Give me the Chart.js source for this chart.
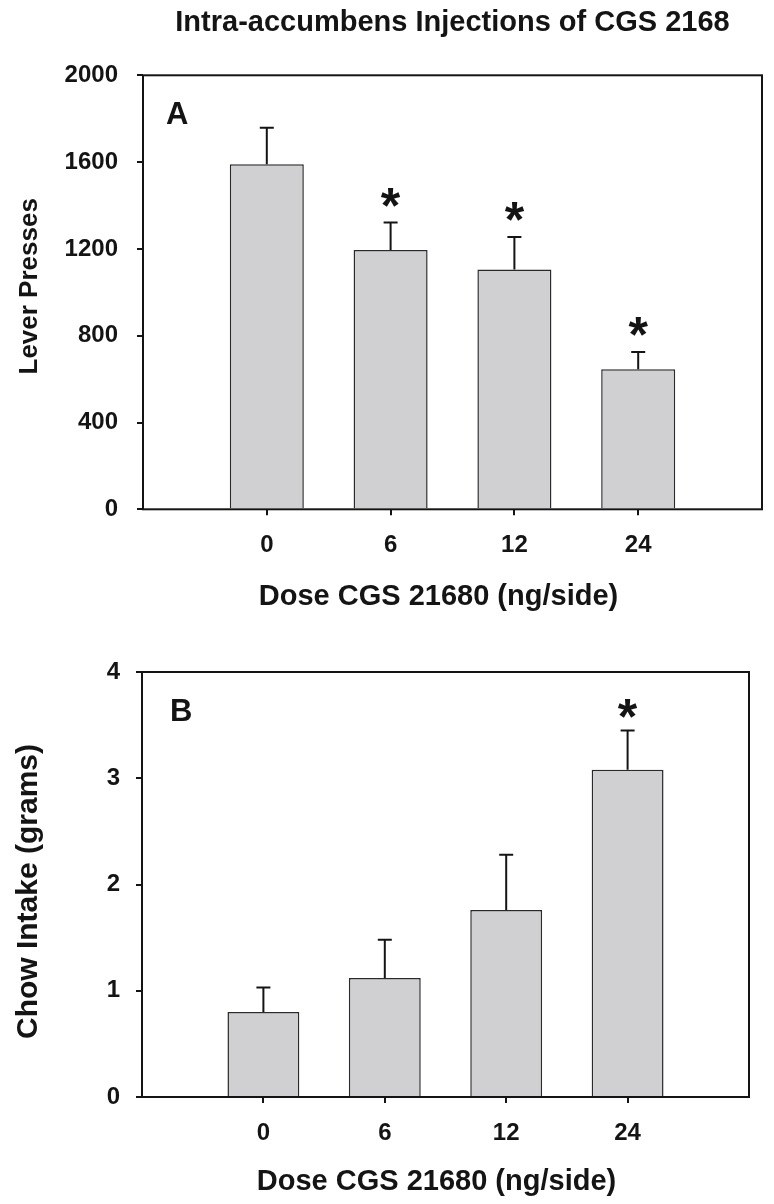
<!DOCTYPE html>
<html>
<head>
<meta charset="utf-8">
<script src="https://cdn.jsdelivr.net/npm/chart.js@4.4.1/dist/chart.umd.min.js"></script>
<style>
html,body{margin:0;padding:0;background:#fff;}
#wrap{position:relative;width:774px;height:1204px;overflow:hidden;}
#boxA{position:absolute;left:0;top:0;width:774px;height:620px;}
#boxB{position:absolute;left:0;top:620px;width:774px;height:584px;}
</style>
</head>
<body>
<div id="wrap">
  <div id="boxA"><canvas id="cA"></canvas></div>
  <div id="boxB"><canvas id="cB"></canvas></div>
</div>
<script>
// ---- data ----
const doses = ['0', '6', '12', '24'];
const leverPresses = [1590, 1195, 1105, 645];
const leverPressesSEM = [168, 127, 150, 80];
const leverSig = [false, true, true, true];
const leverTicks = [0, 400, 800, 1200, 1600, 2000];

const chowIntake = [0.80, 1.12, 1.76, 3.08];
const chowIntakeSEM = [0.23, 0.36, 0.52, 0.37];
const chowSig = [false, false, false, true];
const chowTicks = [0, 1, 2, 3, 4];

const mainTitle = 'Intra-accumbens Injections of CGS 2168';
const xTitle = 'Dose CGS 21680 (ng/side)';

// ---- styling ----
const FONT = "'Liberation Sans', Arial, Helvetica, sans-serif";
const INK = '#141414';
Chart.defaults.font.family = FONT;
Chart.defaults.color = INK;

const extras = {
  id: 'extras',
  afterDatasetsDraw(chart, args, o) {
    const ctx = chart.ctx;
    const meta = chart.getDatasetMeta(0);
    const ys = chart.scales.y;
    const ca = chart.chartArea;
    ctx.save();
    ctx.strokeStyle = INK;
    ctx.lineWidth = 2;
    ctx.lineCap = 'butt';
    meta.data.forEach((bar, i) => {
      const top = ys.getPixelForValue(o.means[i] + o.sem[i]);
      ctx.beginPath();
      ctx.moveTo(bar.x, bar.y);
      ctx.lineTo(bar.x, top);
      ctx.moveTo(bar.x - o.cap / 2, top);
      ctx.lineTo(bar.x + o.cap / 2, top);
      ctx.stroke();
      if (o.sig[i]) {
        ctx.font = 'bold ' + o.starSize + 'px ' + FONT;
        ctx.fillStyle = INK;
        ctx.textAlign = 'center';
        ctx.textBaseline = 'alphabetic';
        const m = ctx.measureText('*');
        const asc = m.actualBoundingBoxAscent, desc = m.actualBoundingBoxDescent;
        const cy = top - o.starGap;
        ctx.fillText('*', bar.x, cy + (asc - desc) / 2);
      }
    });
    // frame
    ctx.lineWidth = 2;
    ctx.strokeRect(ca.left, ca.top, ca.right - ca.left, ca.bottom - ca.top);
    // panel letter
    ctx.font = 'bold ' + o.letterSize + 'px ' + FONT;
    ctx.fillStyle = INK;
    ctx.textAlign = 'left';
    ctx.textBaseline = 'alphabetic';
    ctx.fillText(o.letter, ca.left + o.letterDx, ca.top + o.letterDy);
    // axis titles
    ctx.textAlign = 'center';
    ctx.textBaseline = 'middle';
    ctx.font = 'bold ' + o.xTitleSize + 'px ' + FONT;
    ctx.fillText(o.xTitle, (ca.left + ca.right) / 2 + o.xTitleDx, ca.bottom + o.xTitleDy);
    ctx.font = 'bold ' + o.yTitleSize + 'px ' + FONT;
    ctx.translate(o.yTitleX, (ca.top + ca.bottom) / 2 + o.yTitleDy);
    ctx.rotate(-Math.PI / 2);
    ctx.fillText(o.yTitle, 0, 0);
    ctx.restore();
  }
};

function makeChart(id, cfg) {
  return new Chart(document.getElementById(id), {
    type: 'bar',
    data: {
      datasets: [{
        data: doses.map((d, i) => ({ x: i, y: cfg.means[i] })),
        backgroundColor: '#d0d0d3',
        borderColor: '#2a2a2a',
        borderWidth: 1.5,
        categoryPercentage: 1,
        barPercentage: cfg.barPct
      }]
    },
    options: {
      responsive: true,
      maintainAspectRatio: false,
      animation: false,
      devicePixelRatio: 1,
      layout: { padding: cfg.padding },
      plugins: {
        legend: { display: false },
        tooltip: { enabled: false },
        title: cfg.title,
        extras: {
          means: cfg.means, sem: cfg.sem, sig: cfg.sig, cap: 14,
          starSize: 50, starGap: cfg.starGap,
          letter: cfg.letter, letterSize: 31, letterDx: cfg.letterDx, letterDy: 48.5,
          xTitle: xTitle, xTitleSize: 29, xTitleDx: cfg.xTitleDx, xTitleDy: cfg.xTitleDy,
          yTitle: cfg.yTitle, yTitleSize: cfg.yTitleSize, yTitleX: cfg.yTitleX, yTitleDy: cfg.yTitleDy
        }
      },
      scales: {
        x: {
          type: 'linear',
          min: -1, max: 4,
          offset: false,
          afterBuildTicks: s => { s.ticks = doses.map((d, i) => ({ value: i })); },
          afterFit: s => { s.height = cfg.xHeight; },
          grid: { offset: false, drawOnChartArea: false, drawTicks: true, tickLength: 6, color: INK, lineWidth: 2 },
          border: { display: false },
          ticks: {
            padding: 16, autoSkip: false, maxRotation: 0, color: INK,
            font: { size: 24, weight: 'bold' },
            callback: v => doses[v]
          },
          title: { display: false }
        },
        y: {
          min: cfg.ticks[0], max: cfg.ticks[cfg.ticks.length - 1],
          afterBuildTicks: s => { s.ticks = cfg.ticks.map(v => ({ value: v })); },
          afterFit: s => { s.width = cfg.yWidth; },
          grid: { drawOnChartArea: false, drawTicks: true, tickLength: 6, color: INK, lineWidth: 2 },
          border: { display: false },
          ticks: {
            padding: cfg.yTickPad, color: INK, font: { size: 24, weight: 'bold' },
            callback: v => String(v)
          },
          title: { display: false }
        }
      }
    },
    plugins: [extras]
  });
}

makeChart('cA', {
  means: leverPresses, sem: leverPressesSEM, sig: leverSig, ticks: leverTicks,
  yTitle: 'Lever Presses', yTitleSize: 26, yTitleX: 30, yTitleDy: -6,
  letter: 'A', letterDx: 23, starGap: 25,
  xTitleDx: -14, xTitleDy: 88,
  barPct: 0.598, xHeight: 110.7, yWidth: 143, yTickPad: 19,
  padding: { left: 0, right: 12, top: 0, bottom: 0 },
  title: {
    display: true, text: mainTitle, fullSize: false, color: INK,
    font: { size: 29, weight: 'bold' },
    padding: { top: 6, bottom: 34.5 }
  }
});

makeChart('cB', {
  means: chowIntake, sem: chowIntakeSEM, sig: chowSig, ticks: chowTicks,
  yTitle: 'Chow Intake (grams)', yTitleSize: 30, yTitleX: 28.5, yTitleDy: 7,
  letter: 'B', letterDx: 28, starGap: 22,
  xTitleDx: -9, xTitleDy: 85,
  barPct: 0.592, xHeight: 107, yWidth: 142, yTickPad: 16,
  padding: { left: 0, right: 25, top: 52, bottom: 0 },
  title: { display: false }
});
</script>
</body>
</html>
